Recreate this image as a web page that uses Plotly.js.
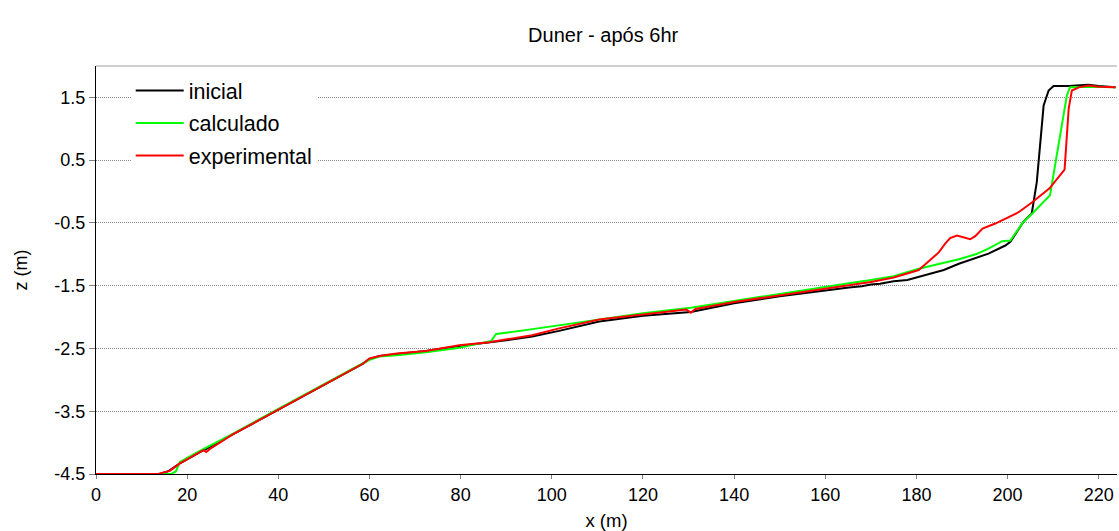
<!DOCTYPE html>
<html>
<head>
<meta charset="utf-8">
<script src="https://cdn.plot.ly/plotly-3.0.1.min.js"></script>
<style>html,body{margin:0;padding:0;background:#fff;}#chart{width:1119px;height:531px;}</style>
</head>
<body>
<div id="chart"></div>
<script>
// inicial (black)
const xInicial = [0, 14, 16, 18.4, 22.8, 24.2, 30, 39.6, 50, 58.6, 60, 62.2, 66, 72.4, 79.7, 86.3, 90, 95.7, 101.6, 110.4, 120, 130.5, 140, 150, 160, 165.2, 168, 170, 172, 175, 178, 180.5, 183, 186, 189.3, 192, 195.8, 199.5, 200.6, 203.5, 205.3, 206.4, 207.2, 207.9, 209, 210.1, 213.4, 217.7, 220, 223.7];
const zInicial = [-4.5, -4.5, -4.45, -4.33, -4.15, -4.1, -3.87, -3.49, -3.08, -2.74, -2.67, -2.62, -2.59, -2.54, -2.46, -2.41, -2.37, -2.31, -2.22, -2.07, -1.98, -1.92, -1.78, -1.67, -1.57, -1.53, -1.51, -1.48, -1.47, -1.43, -1.41, -1.36, -1.31, -1.25, -1.15, -1.08, -0.99, -0.86, -0.8, -0.48, -0.35, 0.15, 0.79, 1.37, 1.61, 1.68, 1.68, 1.7, 1.68, 1.66];

// calculado (green)
const xCalculado = [0, 16.5, 17.5, 18.4, 22.8, 30, 39.6, 50, 58.6, 60, 62.2, 66, 72.4, 79.7, 86.7, 87.8, 95, 101.6, 110.4, 120, 130.5, 140, 150, 160, 165.2, 170, 175, 180.5, 185, 189.3, 193, 195.8, 198.8, 200.6, 203.5, 205.7, 209.3, 210.4, 213.0, 213.7, 218, 223.7];
const zCalculado = [-4.5, -4.5, -4.46, -4.31, -4.13, -3.86, -3.48, -3.07, -2.74, -2.68, -2.63, -2.61, -2.56, -2.49, -2.38, -2.27, -2.2, -2.13, -2.03, -1.94, -1.85, -1.74, -1.63, -1.52, -1.46, -1.41, -1.35, -1.23, -1.15, -1.08, -1.0, -0.91, -0.79, -0.78, -0.48, -0.33, -0.06, 0.42, 1.53, 1.66, 1.67, 1.66];

// experimental (red)
const xExperimental = [0, 13.6, 16.2, 18.4, 22.8, 23.6, 24.2, 25, 30, 39.6, 50, 58.6, 60, 62.2, 66, 72.4, 79.7, 86.3, 95.7, 101.6, 110.4, 120, 129.5, 130.5, 131.5, 140, 150, 160, 165.2, 170, 175, 180.5, 182.7, 184.9, 186.3, 187.4, 188.9, 190.3, 191.8, 192.9, 194.5, 197.3, 198.8, 202.4, 205.4, 209.2, 212.5, 213.4, 214.1, 215.6, 217.7, 220, 223.7];
const zExperimental = [-4.5, -4.5, -4.45, -4.33, -4.15, -4.12, -4.15, -4.1, -3.87, -3.49, -3.08, -2.74, -2.66, -2.62, -2.58, -2.54, -2.45, -2.4, -2.29, -2.18, -2.04, -1.96, -1.88, -1.93, -1.87, -1.76, -1.65, -1.54, -1.49, -1.44, -1.37, -1.25, -1.11, -0.97, -0.83, -0.74, -0.7, -0.73, -0.76, -0.71, -0.59, -0.51, -0.46, -0.33, -0.17, 0.05, 0.35, 1.32, 1.61, 1.66, 1.69, 1.67, 1.66];

const seriesNames = ["inicial", "calculado", "experimental"];
const xTickVals = [0, 20, 40, 60, 80, 100, 120, 140, 160, 180, 200, 220];
const yTickVals = [-4.5, -3.5, -2.5, -1.5, -0.5, 0.5, 1.5];
const yTickText = ["-4.5", "-3.5", "-2.5", "-1.5", "-0.5", "0.5", "1.5"];

const font = "Arial, 'Liberation Sans', sans-serif";
const traces = [
  {x: xInicial, y: zInicial, name: seriesNames[0], mode: "lines", line: {color: "#000000", width: 2}, legendgroup: "a"},
  {x: xCalculado, y: zCalculado, name: seriesNames[1], mode: "lines", line: {color: "#00ff00", width: 2}, legendgroup: "b"},
  {x: xExperimental, y: zExperimental, name: seriesNames[2], mode: "lines", line: {color: "#ff0000", width: 2}, legendgroup: "c"}
];

const layout = {
  width: 1119, height: 531,
  margin: {l: 96, r: 2, t: 66, b: 57},
  paper_bgcolor: "#ffffff", plot_bgcolor: "#ffffff",
  font: {family: font, color: "#000000", size: 18},
  title: {text: "Duner - após 6hr", x: 0.539, xanchor: "center", y: 0.935, yanchor: "middle", font: {family: font, size: 20, color: "#000"}},
  xaxis: {
    range: [0, 224], tickvals: xTickVals, showgrid: false, zeroline: false,
    showline: true, linecolor: "#000000", linewidth: 1,
    ticks: "outside", ticklen: 4, tickcolor: "#808080",
    tickfont: {family: font, size: 18},
    title: {text: "x (m)", font: {family: font, size: 18.5}, standoff: 10}
  },
  yaxis: {
    range: [-4.5, 2.0], tickvals: yTickVals, ticktext: yTickText,
    showgrid: true, gridcolor: "#8c8c8c", griddash: "1px,1px", gridwidth: 1, zeroline: false,
    showline: true, linecolor: "#000000", linewidth: 1,
    ticks: "outside", ticklen: 6, tickcolor: "#808080",
    tickfont: {family: font, size: 18},
    title: {text: "z (m)", font: {family: font, size: 18}, standoff: 22}
  },
  legend: {
    x: 0.034, y: 0.99, xanchor: "left", yanchor: "top",
    bgcolor: "#ffffff", borderwidth: 0, itemwidth: 48,
    font: {family: font, size: 21.5, color: "#000"},
    tracegroupgap: 1.5
  },
  shapes: [{type: "line", xref: "paper", yref: "paper", x0: 0, x1: 1, y0: 1, y1: 1, line: {color: "#a0a0a0", width: 1}}]
};

Plotly.newPlot("chart", traces, layout, {displayModeBar: false, staticPlot: true});
</script>
</body>
</html>
